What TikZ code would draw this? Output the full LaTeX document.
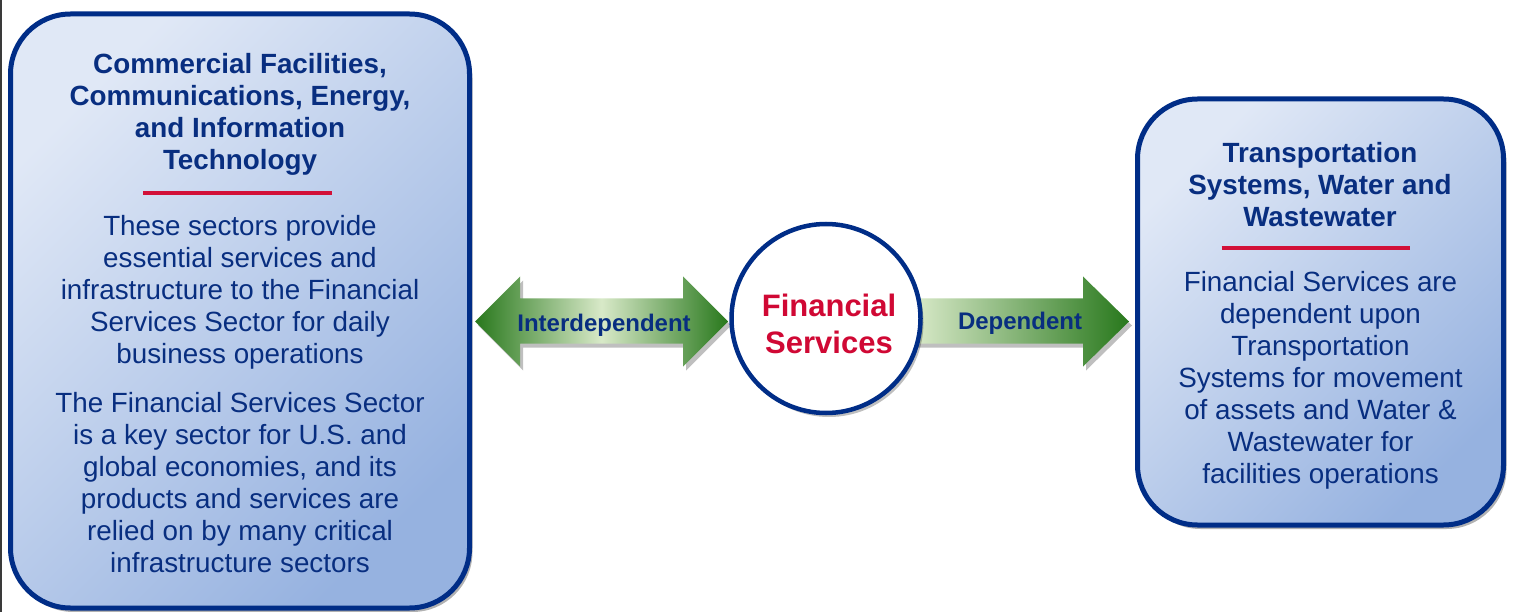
\documentclass[tikz,border=0pt]{standalone}
\usepackage{fontspec}
\setmainfont{Liberation Sans}
\usetikzlibrary{shadows}
\definecolor{txtblue}{RGB}{8,46,128}
\definecolor{bordblue}{RGB}{0,45,135}
\definecolor{filllight}{RGB}{224,232,246}
\definecolor{filldark}{RGB}{150,178,224}
\definecolor{fsred}{RGB}{208,8,52}
\definecolor{linered}{RGB}{210,16,56}
\definecolor{gdark}{RGB}{40,120,28}
\definecolor{glight}{RGB}{216,233,200}
\definecolor{edgegray}{RGB}{58,58,58}
\tikzset{
  sectorbox/.style={draw=bordblue, line width=5pt, rounded corners=60pt,
    shade, top color=filllight, bottom color=filldark, shading angle=45,
    drop shadow={shadow xshift=3pt, shadow yshift=-4pt, fill=black, opacity=0.3},
    inner sep=0pt},
  hubcircle/.style={circle, draw=bordblue, line width=4.5pt, fill=white,
    minimum size=189pt, inner sep=0pt,
    drop shadow={shadow xshift=3pt, shadow yshift=-4pt, fill=black, opacity=0.25}},
  fatarrow/.style={drop shadow={shadow xshift=3pt, shadow yshift=-4pt, fill=black, opacity=0.25}},
  titletext/.style={align=center, text=txtblue, inner sep=0pt,
    font={\fontsize{27.8}{32}\selectfont\bfseries}},
  bodytext/.style={align=center, text=txtblue, inner sep=0pt,
    font={\fontsize{27.8}{32}\selectfont}},
  arrowtext/.style={text=txtblue, inner sep=0pt, font={\fontsize{24}{28}\selectfont\bfseries}},
  hubtext/.style={align=center, text=fsred, inner sep=0pt, font={\fontsize{31}{37}\selectfont\bfseries}},
  redrule/.style={draw=linered, line width=4pt}
}
\begin{document}
\begin{tikzpicture}[x=1pt,y=-1pt]
\useasboundingbox (0,0) rectangle (1515,612);
\fill[edgegray] (0,0) rectangle (2,612);

% boxes
\node[sectorbox, minimum width=459pt, minimum height=594pt] (leftbox) at (240,311) {};
\node[sectorbox, minimum width=366pt, minimum height=426pt] (rightbox) at (1320.5,312) {};

% double arrow (interdependent)
\path[fatarrow, shade, left color=gdark, right color=gdark, middle color=glight]
  (475,321.5) -- (520,276.5) -- (520,298.5) -- (683,298.5) -- (683,276.5) -- (728,321.5)
  -- (683,366.5) -- (683,343.5) -- (520,343.5) -- (520,366.5) -- cycle;
% single arrow (dependent)
\path[fatarrow, shade, left color=glight, right color=gdark]
  (915,298.5) -- (1083,298.5) -- (1083,276.5) -- (1129,321.5) -- (1083,366.5)
  -- (1083,343.5) -- (915,343.5) -- cycle;

% hub
\node[hubcircle] (hub) at (826,318.5) {};
\node[hubtext, anchor=base] (hubtxt) at (829,353.3) {Financial\\Services};

\node[arrowtext, anchor=base] (interlbl) at (604,331) {Interdependent};
\node[arrowtext, anchor=base] (deplbl) at (1020,330) {Dependent};

% left texts
\node[titletext, anchor=base] (lefttitle) at (240,170)
  {Commercial Facilities,\\Communications, Energy,\\and Information\\Technology};
\draw[redrule] (143,193.3) coordinate (lr1) -- (331.5,193.3) coordinate (lr2);
\node[bodytext, anchor=base] (leftbody) at (240,572.3)
  {These sectors provide\\essential services and\\infrastructure to the Financial\\Services Sector for daily\\business operations\\[17pt]
   The Financial Services Sector\\is a key sector for U.S. and\\global economies, and its\\products and services are\\relied on by many critical\\infrastructure sectors};

% right texts
\node[titletext, anchor=base] (righttitle) at (1320,226.7)
  {Transportation\\Systems, Water and\\Wastewater};
\draw[redrule] (1221.5,248.3) coordinate (rr1) -- (1410,248.3) coordinate (rr2);
\node[bodytext, anchor=base] (rightbody) at (1320.5,483.3)
  {Financial Services are\\dependent upon\\Transportation\\Systems for movement\\of assets and Water \&\\Wastewater for\\facilities operations};
\end{tikzpicture}
\end{document}
